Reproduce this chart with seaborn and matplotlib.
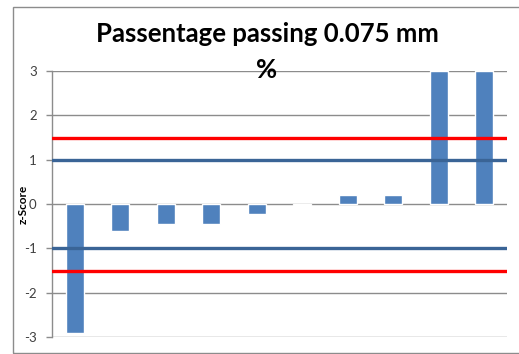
import matplotlib
matplotlib.use("Agg")
import matplotlib.pyplot as plt
import seaborn as sns
import pandas as pd
from matplotlib.patches import Rectangle

# z-scores per laboratory
labs = ["L1", "L2", "L3", "L4", "L5", "L6", "L7", "L8", "L9", "L10"]
z_scores = [-2.92, -0.62, -0.45, -0.45, -0.23, -0.03, 0.20, 0.20, 3.0, 3.0]

# action limits
warning_limits = [-1.0, 1.0]
action_limits = [-1.5, 1.5]
y_ticks = [-3, -2, -1, 0, 1, 2, 3]

title_lines = ["Passentage passing 0.075 mm", "%"]

df = pd.DataFrame({"lab": labs, "z": z_scores})

sns.set_theme(style="white")
plt.rcParams["font.family"] = ["Lato", "DejaVu Sans"]

fig = plt.figure(figsize=(5.19, 3.54), dpi=100)
fig.patch.set_facecolor("white")
ax = fig.add_axes([52 / 519, 1 - 337 / 354, (507 - 52) / 519, (337 - 71) / 354])

# gridlines
for t in y_ticks:
    ax.axhline(t, color="#8c8c8c", lw=1.0, zorder=0)

sns.barplot(data=df, x="lab", y="z", color="#4F81BD", width=0.4,
            saturation=1, ax=ax, zorder=2)

for v in warning_limits:
    ax.axhline(v, color="#3A6496", lw=2.4, zorder=3)
for v in action_limits:
    ax.axhline(v, color="#FF0000", lw=2.4, zorder=3)

ax.set_ylim(-3, 3)
ax.set_xlim(-0.5, len(labs) - 0.5)
ax.set_yticks(y_ticks)
ax.set_yticklabels([str(t) for t in y_ticks], fontsize=9.5, color="#404040")
ax.set_xticks([])
ax.set_xlabel("")
ax.set_ylabel("z-Score", fontsize=8.5, fontweight="bold", color="black")
ax.yaxis.label.set_va("center")
ax.yaxis.set_label_coords(-0.064, 0.5)
ax.tick_params(axis="y", which="both", left=True, length=4.5, width=1,
               color="#8c8c8c", pad=6.5)

for side in ["top", "right", "bottom"]:
    ax.spines[side].set_visible(False)
ax.spines["left"].set_color("#8c8c8c")
ax.spines["left"].set_linewidth(1.0)

# chart frame
fig.patches.append(Rectangle((13 / 519, 1 - 353 / 354), 1.2, 346 / 354,
                             transform=fig.transFigure, fill=False,
                             edgecolor="#8c8c8c", lw=1.0))

# two-line title
for line, base_y in zip(title_lines, [42, 78]):
    fig.text(267 / 519, 1 - base_y / 354, line, ha="center", va="baseline",
             fontsize=18.5, fontweight="bold", color="black")

fig.savefig("out.png", dpi=100)
